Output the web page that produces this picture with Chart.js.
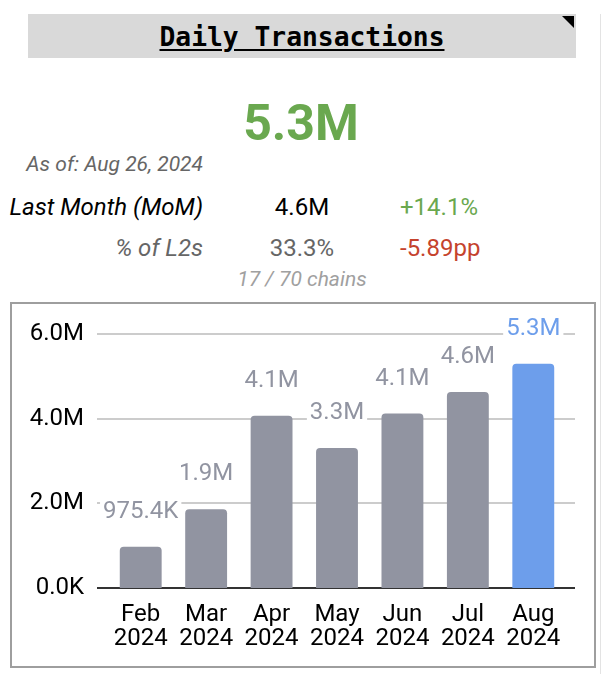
<!DOCTYPE html>
<html>
<head>
<meta charset="utf-8">
<script src="https://cdn.jsdelivr.net/npm/chart.js@4"></script>
<style>
  body { margin: 0; background: #fff; width: 602px; height: 674px; position: relative; overflow: hidden; font-family: Roboto, sans-serif; }
  .abs { position: absolute; white-space: nowrap; line-height: 1; }
  #titleBox { left: 28px; top: 14px; width: 548px; height: 44px; background: #d9d9d9; text-align: center;
    font: bold 26.3px "DejaVu Sans Mono", monospace; line-height: 46px; color: #000; }
  #titleBox span { text-decoration: underline; text-underline-offset: 3px; }
  #corner { left: 562px; top: 16px; width: 0; height: 0; border-top: 12px solid #000; border-left: 12px solid transparent; }
  #sideLine { left: 600px; top: 14px; width: 1px; height: 660px; background: #e3e3e3; }
  #big { left: 0; width: 602px; top: 98px; text-align: center; font-weight: bold; font-size: 50px; color: #6aa84f; }
  .lbl { right: 399px; text-align: right; font-style: italic; }
  .mid { left: 202px; width: 200px; text-align: center; font-size: 24px; }
  .chg { left: 400px; font-size: 24px; }
  #chartBox { left: 10px; top: 302px; width: 582px; height: 362px; border: 2px solid #9e9e9e; }
</style>
</head>
<body>
<div id="titleBox" class="abs"><span>Daily Transactions</span></div>
<div id="corner" class="abs"></div>
<div id="sideLine" class="abs"></div>
<div id="big" class="abs">5.3M</div>
<div class="abs lbl" style="top:154px;font-size:21px;color:#666;">As of: Aug 26, 2024</div>
<div class="abs lbl" style="top:195px;font-size:24px;color:#000;">Last Month (MoM)</div>
<div class="abs mid" style="top:195px;color:#000;">4.6M</div>
<div class="abs chg" style="top:195px;color:#6aa84f;">+14.1%</div>
<div class="abs lbl" style="top:236px;font-size:24px;color:#666;">% of L2s</div>
<div class="abs mid" style="top:236px;color:#666;">33.3%</div>
<div class="abs chg" style="top:236px;color:#c5432d;">-5.89pp</div>
<div class="abs" style="left:0;width:604px;text-align:center;top:269px;font-size:21px;font-style:italic;color:#a0a0a0;">17 / 70 chains</div>
<div id="chartBox" class="abs"><canvas id="bar" width="582" height="362"></canvas></div>
<script>
var months = ['Feb', 'Mar', 'Apr', 'May', 'Jun', 'Jul', 'Aug'];
var years = ['2024', '2024', '2024', '2024', '2024', '2024', '2024'];
var txValues = [975400, 1860000, 4070000, 3310000, 4120000, 4630000, 5300000];
var yTicks = [0, 2000000, 4000000, 6000000];

var grey = '#9194a1';
var blue = '#6d9eeb';

function fmt(v) {
    if (v >= 1000000) return (v / 1000000).toFixed(1) + 'M';
    return (v / 1000).toFixed(1) + 'K';
}

var colors = txValues.map(function (v, i) { return i === txValues.length - 1 ? blue : grey; });

// gridlines run a little past the bar area, like the sheets chart
var gridPlugin = {
    id: 'grid',
    beforeDatasetsDraw: function (chart) {
        var ctx = chart.ctx, y = chart.scales.y, a = chart.chartArea;
        ctx.save();
        yTicks.forEach(function (v) {
            var py = Math.round(y.getPixelForValue(v));
            ctx.beginPath();
            ctx.strokeStyle = v === 0 ? '#333' : '#cccccc';
            ctx.lineWidth = 2;
            ctx.moveTo(a.left - 11, py);
            ctx.lineTo(a.right + 9, py);
            ctx.stroke();
        });
        ctx.restore();
    }
};

var valueLabels = {
    id: 'valueLabels',
    afterDatasetsDraw: function (chart) {
        var ctx = chart.ctx;
        var meta = chart.getDatasetMeta(0);
        ctx.save();
        ctx.font = '24px Roboto';
        ctx.textAlign = 'center';
        ctx.textBaseline = 'alphabetic';
        meta.data.forEach(function (bar, i) {
            var txt = fmt(txValues[i]);
            var w = ctx.measureText(txt).width;
            var base = bar.y - 29;
            ctx.fillStyle = '#fff';
            ctx.fillRect(bar.x - w / 2 - 3, base - 18, w + 6, 22);
            ctx.fillStyle = colors[i];
            ctx.fillText(txt, bar.x, base);
        });
        ctx.restore();
    }
};

var ctx = document.getElementById('bar').getContext('2d');
var myChart = new Chart(ctx, {
    type: 'bar',
    data: {
        labels: months.map(function (m, i) { return [m, years[i]]; }),
        datasets: [{
            label: 'Daily Transactions',
            data: txValues,
            backgroundColor: colors,
            borderRadius: 4,
            borderSkipped: 'start',
            barPercentage: 0.64,
            categoryPercentage: 1
        }]
    },
    options: {
        responsive: false,
        animation: false,
        devicePixelRatio: 1,
        layout: { padding: { left: 0, right: 28, top: 30, bottom: 0 } },
        plugins: {
            legend: { display: false },
            tooltip: { enabled: false }
        },
        scales: {
            x: {
                grid: { display: false, drawTicks: false },
                border: { display: false },
                ticks: { color: '#000', font: { family: 'Roboto', size: 24, lineHeight: 1 }, padding: 15, maxRotation: 0 },
                afterFit: function (s) { s.height = 78; }
            },
            y: {
                min: 0,
                max: 6000000,
                grid: { display: false, drawTicks: false },
                border: { display: false },
                ticks: {
                    stepSize: 2000000,
                    color: '#000',
                    font: { family: 'Roboto', size: 24 },
                    padding: 24,
                    callback: function (v) { return fmt(v); }
                },
                afterFit: function (s) {
                    s.width = 96;
                    s.paddingTop = 0;
                    s.paddingBottom = 0;
                }
            }
        }
    },
    plugins: [gridPlugin, valueLabels]
});
</script>
</body>
</html>
